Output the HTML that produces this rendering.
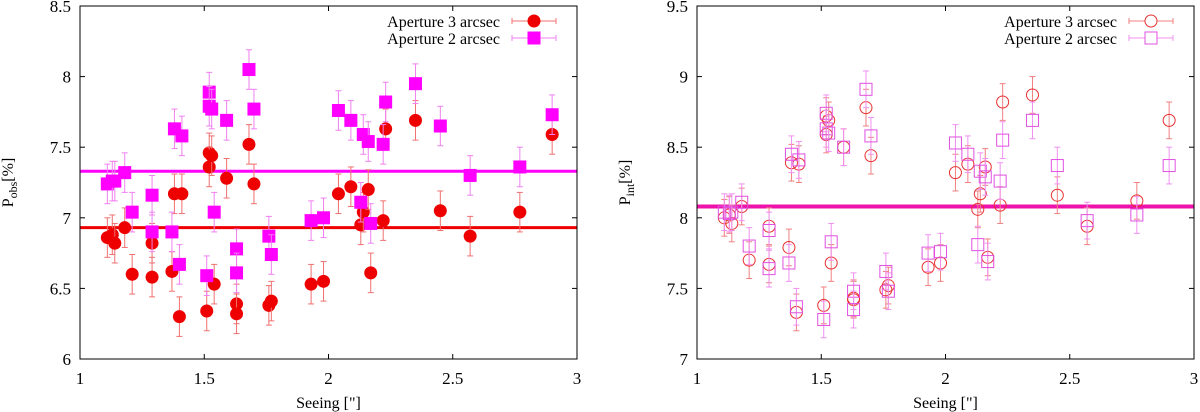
<!DOCTYPE html>
<html><head><meta charset="utf-8">
<style>
body{margin:0;background:#fff;}
svg{display:block;font-family:"Liberation Serif",serif;}
</style></head>
<body>
<svg id="chart" width="1200" height="412" viewBox="0 0 1200 412" xmlns="http://www.w3.org/2000/svg"></svg>
<script>
const seeing = [1.11,1.13,1.14,1.18,1.21,1.29,1.29,1.37,1.38,1.40,1.41,1.51,1.52,1.52,1.53,1.54,1.59,1.63,1.63,1.68,1.70,1.76,1.77,1.93,1.98,2.04,2.09,2.13,2.14,2.16,2.17,2.22,2.23,2.35,2.45,2.57,2.77,2.90];
const obsAp3 = [6.86,6.88,6.82,6.93,6.60,6.82,6.58,6.62,7.17,6.30,7.17,6.34,7.46,7.36,7.44,6.53,7.28,6.39,6.32,7.52,7.24,6.38,6.41,6.53,6.55,7.17,7.22,6.95,7.04,7.20,6.61,6.98,7.63,7.69,7.05,6.87,7.04,7.59];
const obsAp2 = [7.24,7.26,7.26,7.32,7.04,7.16,6.90,6.90,7.63,6.67,7.58,6.59,7.89,7.79,7.77,7.04,7.69,6.78,6.61,8.05,7.77,6.87,6.74,6.98,7.00,7.76,7.69,7.11,7.59,7.54,6.96,7.52,7.82,7.95,7.65,7.30,7.36,7.73];
const intAp3 = [8.00,8.02,7.96,8.08,7.70,7.94,7.67,7.79,8.39,7.33,8.38,7.38,8.72,8.59,8.69,7.68,8.50,7.43,7.42,8.78,8.44,7.49,7.52,7.65,7.68,8.32,8.38,8.06,8.17,8.36,7.72,8.09,8.82,8.87,8.16,7.94,8.12,8.69];
const intAp2 = [8.04,8.03,8.04,8.11,7.80,7.91,7.64,7.68,8.45,7.37,8.41,7.28,8.74,8.63,8.60,7.83,8.50,7.48,7.35,8.91,8.58,7.62,7.48,7.75,7.76,8.53,8.45,7.81,8.33,8.29,7.69,8.26,8.55,8.69,8.37,7.98,8.02,8.37];
const errObs = 0.14;
const errInt = 0.13;
const meanObs = [6.93, 7.33];
const meanInt = [8.08, 8.08];
const xTicks = [1,1.5,2,2.5,3];
const xTickLabels = ["1","1.5","2","2.5","3"];
const yTicksObs = [6,6.5,7,7.5,8,8.5];
const yTickLabelsObs = ["6","6.5","7","7.5","8","8.5"];
const yTicksInt = [7,7.5,8,8.5,9,9.5];
const yTickLabelsInt = ["7","7.5","8","8.5","9","9.5"];

const NS="http://www.w3.org/2000/svg";
const svg=document.getElementById('chart');
function el(tag,attrs,parent){const e=document.createElementNS(NS,tag);for(const k in attrs)e.setAttribute(k,attrs[k]);(parent||svg).appendChild(e);return e;}

function panel(opt){
  const {x0,x1,y0,y1,ymin,ymax,yTicks,yLabels,series,means,meanColors,err,filled,ylabelSub,ylabelX,prefix}=opt;
  const g=el('g',{});
  
  
  const sx=v=>x0+(v-1)/2*(x1-x0);
  const sy=v=>y1-(v-ymin)/(ymax-ymin)*(y1-y0);
  xTicks.forEach((t,i)=>{
    const X=sx(t);
    el('line',{x1:X,y1:y1,x2:X,y2:y1-5,stroke:'#000','stroke-width':1},g);
    el('line',{x1:X,y1:y0,x2:X,y2:y0+5,stroke:'#000','stroke-width':1},g);
    const tx=el('text',{x:X,y:y1+25,'text-anchor':'middle','font-size':17},g);
    
    
    tx.textContent=xTickLabels[i];
  });
  yTicks.forEach((t,i)=>{
    const Y=sy(t);
    el('line',{x1:x0,y1:Y,x2:x0+5,y2:Y,stroke:'#000','stroke-width':1},g);
    el('line',{x1:x1,y1:Y,x2:x1-5,y2:Y,stroke:'#000','stroke-width':1},g);
    const tx=el('text',{x:x0-9,y:Y+6,'text-anchor':'end','font-size':17},g);
    
    
    tx.textContent=yLabels[i];
  });
  const xt=el('text',{x:(x0+x1)/2,y:408,'text-anchor':'middle','font-size':16},g);
  
  
  xt.textContent='Seeing ["]';
  const yt=el('text',{transform:`translate(${ylabelX},${(y0+y1)/2}) rotate(-90)`,'text-anchor':'middle','font-size':16},g);
  
  
  yt.innerHTML='P<tspan font-size="12" dy="4">'+ylabelSub+'</tspan><tspan dy="-4">[%]</tspan>';
  const clip='clip-'+prefix;
  const cp=el('clipPath',{id:clip},g); el('rect',{x:x0,y:y0,width:x1-x0,height:y1-y0},cp);
  means.forEach((m,i)=>{
    const ln=el('line',{x1:x0,x2:x1,y1:sy(m),y2:sy(m),stroke:meanColors[i],'stroke-width':filled?3:4},g);
    
    
  });
  series.forEach(s=>{
    const sg=el('g',{'clip-path':`url(#${clip})`},g);
    
    
    seeing.forEach((sv,i)=>{
      const X=sx(sv),Y=sy(s.vals[i]),eT=sy(s.vals[i]+err),eB=sy(s.vals[i]-err);
      el('line',{x1:X,x2:X,y1:eT,y2:eB,stroke:s.errColor,'stroke-width':1},sg);
      el('line',{x1:X-3,x2:X+3,y1:eT,y2:eT,stroke:s.errColor,'stroke-width':1},sg);
      el('line',{x1:X-3,x2:X+3,y1:eB,y2:eB,stroke:s.errColor,'stroke-width':1},sg);
      let m;
      if(s.shape==='circle') m=el('circle',{cx:X,cy:Y,r:6,fill:filled?s.color:'none',stroke:s.color,'stroke-width':1},sg);
      else m=el('rect',{x:X-6,y:Y-6,width:12,height:12,fill:filled?s.color:'none',stroke:s.color,'stroke-width':1},sg);
      
      
    });
  });
  el('rect',{x:x0,y:y0,width:x1-x0,height:y1-y0,fill:'none',stroke:'#000','stroke-width':1},g);
  series.forEach((s,i)=>{
    const lg=el('g',{},g);
    
    
    const ly=21+i*17;
    const t=el('text',{x:x1-77,y:ly+6,'text-anchor':'end','font-size':16},lg);
    t.textContent=s.label;
    const lx0=x1-65,lx1=x1-21,lm=(lx0+lx1)/2;
    el('line',{x1:lx0,x2:lx1,y1:ly,y2:ly,stroke:s.errColor,'stroke-width':1},lg);
    el('line',{x1:lx0,x2:lx0,y1:ly-3,y2:ly+3,stroke:s.errColor},lg);
    el('line',{x1:lx1,x2:lx1,y1:ly-3,y2:ly+3,stroke:s.errColor},lg);
    if(s.shape==='circle') el('circle',{cx:lm,cy:ly,r:6,fill:filled?s.color:'#fff',stroke:s.color},lg);
    else el('rect',{x:lm-6,y:ly-6,width:12,height:12,fill:filled?s.color:'#fff',stroke:s.color},lg);
  });
}

panel({x0:80,x1:577,y0:6,y1:359,ymin:6,ymax:8.5,yTicks:yTicksObs,yLabels:yTickLabelsObs,
  means:meanObs,meanColors:['#ee0000','#ff00ff'],err:errObs,filled:true,ylabelSub:'obs',ylabelX:13,prefix:'obs',
  series:[{key:'obs-ap3',vals:obsAp3,color:'#ee0000',errColor:'#f07070',shape:'circle',label:'Aperture 3 arcsec'},
          {key:'obs-ap2',vals:obsAp2,color:'#ff00ff',errColor:'#f080f0',shape:'square',label:'Aperture 2 arcsec'}]});
panel({x0:697,x1:1194,y0:6,y1:359,ymin:7,ymax:9.5,yTicks:yTicksInt,yLabels:yTickLabelsInt,
  means:meanInt,meanColors:['#ee1166','#ee11aa'],err:errInt,filled:false,ylabelSub:'int',ylabelX:630,prefix:'int',
  series:[{key:'int-ap3',vals:intAp3,color:'#e83030',errColor:'#f08080',shape:'circle',label:'Aperture 3 arcsec'},
          {key:'int-ap2',vals:intAp2,color:'#e050e0',errColor:'#f090f0',shape:'square',label:'Aperture 2 arcsec'}]});
</script>
</body></html>
